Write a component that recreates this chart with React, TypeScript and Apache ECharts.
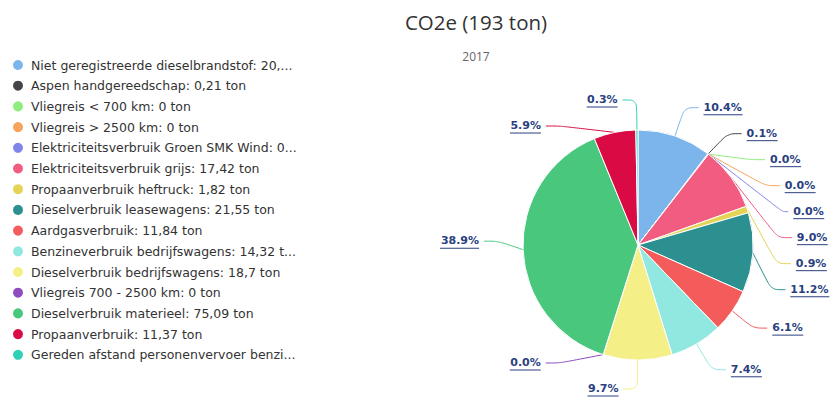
import React, { useEffect, useRef } from "react";
import * as echarts from "echarts";

const categories = [
  "Niet geregistreerde dieselbrandstof",
  "Aspen handgereedschap",
  "Vliegreis < 700 km",
  "Vliegreis > 2500 km",
  "Elektriciteitsverbruik Groen SMK Wind",
  "Elektriciteitsverbruik grijs",
  "Propaanverbruik heftruck",
  "Dieselverbruik leasewagens",
  "Aardgasverbruik",
  "Benzineverbruik bedrijfswagens",
  "Dieselverbruik bedrijfswagens",
  "Vliegreis 700 - 2500 km",
  "Dieselverbruik materieel",
  "Propaanverbruik",
  "Gereden afstand personenvervoer benzine",
];

const values = [20.07, 0.21, 0, 0, 0, 17.42, 1.82, 21.55, 11.84, 14.32, 18.7, 0, 75.09, 11.37, 0.58];

const colors = [
  "#7cb5ec", "#434348", "#90ed7d", "#f7a35c", "#8085e9",
  "#f15c80", "#e4d354", "#2b908f", "#f45b5b", "#91e8e1",
  "#f5ef88", "#8e4cc0", "#48c77d", "#d90a44", "#2ed1b6",
];

const titleText = "CO2e (193 ton)";
const subtitleText = "2017";

const LABEL_FONT = "bold 11px 'DejaVu Sans'";

function measure(text: string): number {
  const c = document.createElement("canvas").getContext("2d");
  if (!c) return text.length * 7;
  c.font = LABEL_FONT;
  return Math.ceil(c.measureText(text).width);
}

export default function App() {
  const ref = useRef<HTMLDivElement>(null);
  useEffect(() => {
    if (!ref.current) return;
    const chart = echarts.init(ref.current, null, { renderer: "svg" });
    const total = values.reduce((a, b) => a + b, 0);
    const pctText = (v: number) => ((v / total) * 100).toFixed(1) + "%";
    const rich: any = {
      t: {
        fontFamily: "DejaVu Sans",
        fontWeight: "bold",
        fontSize: 11,
        color: "#2a3f7f",
        lineHeight: 14,
      },
      s: { fontSize: 1, height: 4.5, lineHeight: 4.5, width: 1 },
    };
    values.forEach((v, i) => {
      rich["u" + i] = {
        fontSize: 1,
        width: measure(pctText(v)),
        height: 1,
        lineHeight: 1,
        backgroundColor: "#2a3f7f",
      };
    });
    const legendMap: Record<string, number> = {};
    categories.forEach((c, i) => (legendMap[c] = values[i]));

    chart.setOption({
      animation: false,
      color: colors,
      title: [
        {
          text: titleText,
          left: 476,
          top: 11,
          padding: 0,
          textAlign: "center",
          textStyle: { fontFamily: "Open Sans", fontSize: 20.5, fontWeight: "normal", color: "#333" },
        },
        {
          text: subtitleText,
          left: 476,
          top: 50,
          padding: 0,
          textAlign: "center",
          textStyle: { fontFamily: "Open Sans", fontSize: 12, fontWeight: "normal", color: "#666" },
        },
      ],
      legend: {
        orient: "vertical",
        left: 11,
        top: 58,
        padding: 0,
        icon: "circle",
        itemWidth: 16,
        itemHeight: 12,
        itemGap: 6.7,
        data: categories,
        formatter: (name: string) => `${name}: ${String(legendMap[name]).replace(".", ",")} ton`,
        textStyle: {
          fontFamily: "DejaVu Sans",
          fontSize: 12.5,
          color: "#333",
          lineHeight: 14,
          width: 268,
          overflow: "truncate",
          ellipsis: "...",
        },
      },
      series: [
        {
          type: "pie",
          center: [638, 245],
          radius: 115,
          startAngle: 90,
          clockwise: true,
          avoidLabelOverlap: true,
          itemStyle: { borderColor: "#fff", borderWidth: 1 },
          emphasis: { disabled: true },
          label: {
            show: true,
            position: "outside",
            overflow: "none",
            formatter: (p: any) => `{s|}\n{t|${pctText(p.value)}}\n{u${p.dataIndex}|}\n{s|}`,
            rich,
          },
          labelLine: {
            show: true,
            length: 30,
            length2: 14,
            smooth: 0.3,
            lineStyle: { width: 1 },
          },
          data: categories.map((name, i) => ({ name, value: values[i] })),
        },
      ],
    });
    return () => chart.dispose();
  }, []);
  return (
    <div
      ref={ref}
      style={{ position: "absolute", left: 0, top: 0, width: 836, height: 402 }}
    />
  );
}
